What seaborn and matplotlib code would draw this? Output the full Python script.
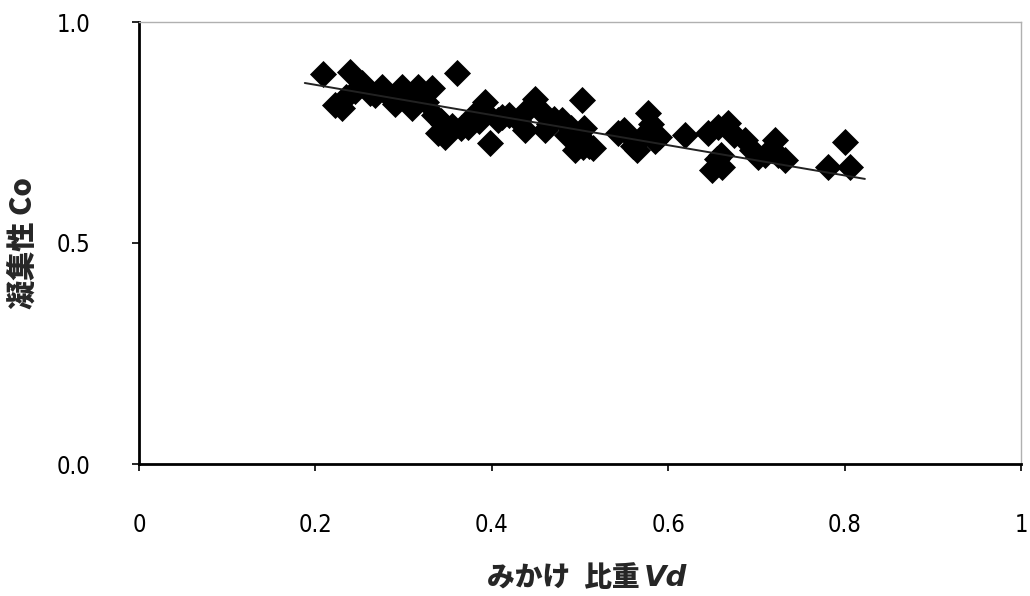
import matplotlib
matplotlib.use("Agg")
import matplotlib.pyplot as plt
import seaborn as sns
import pandas as pd

# Data
vd = [0.209, 0.239, 0.222, 0.235, 0.253, 0.245, 0.230, 0.262, 0.276, 0.285,
      0.298, 0.290, 0.316, 0.305, 0.332, 0.310, 0.325, 0.339, 0.335, 0.345,
      0.360, 0.347, 0.355, 0.373, 0.380, 0.392, 0.398, 0.407, 0.390, 0.420,
      0.438, 0.440, 0.449, 0.455, 0.460, 0.470, 0.480, 0.490, 0.494, 0.502,
      0.500, 0.503, 0.510, 0.505, 0.543, 0.550, 0.565, 0.570, 0.577, 0.580,
      0.585, 0.619, 0.650, 0.656, 0.645, 0.660, 0.668, 0.661, 0.687, 0.675,
      0.702, 0.721, 0.732, 0.800, 0.781, 0.806, 0.710,
      0.268, 0.300, 0.320, 0.342, 0.365, 0.385, 0.412, 0.430, 0.465, 0.485,
      0.515, 0.560, 0.590, 0.655, 0.695, 0.725]
co = [0.882, 0.887, 0.812, 0.830, 0.862, 0.845, 0.805, 0.840, 0.853, 0.830,
      0.853, 0.815, 0.853, 0.830, 0.850, 0.805, 0.820, 0.750, 0.790, 0.770,
      0.885, 0.740, 0.765, 0.762, 0.790, 0.819, 0.726, 0.778, 0.800, 0.790,
      0.756, 0.800, 0.826, 0.800, 0.756, 0.780, 0.778, 0.760, 0.710, 0.824,
      0.740, 0.717, 0.720, 0.760, 0.749, 0.755, 0.710, 0.740, 0.794, 0.770,
      0.730, 0.744, 0.665, 0.762, 0.750, 0.700, 0.771, 0.672, 0.733, 0.745,
      0.695, 0.733, 0.688, 0.729, 0.672, 0.672, 0.700,
      0.835, 0.838, 0.835, 0.775, 0.760, 0.775, 0.785, 0.778, 0.770, 0.745,
      0.715, 0.720, 0.740, 0.690, 0.710, 0.700]
trend_x = [0.188, 0.823]
trend_y = [0.862, 0.645]

x_ticks = [0, 0.2, 0.4, 0.6, 0.8, 1]
x_tick_labels = ["0", "0.2", "0.4", "0.6", "0.8", "1"]
y_ticks = [0.0, 0.5, 1.0]
y_tick_labels = ["0.0", "0.5", "1.0"]

df = pd.DataFrame({"Vd": vd, "Co": co})

sns.set_style("white")
plt.rcParams['font.family'] = ['Noto Sans CJK JP', 'DejaVu Sans']

fig = plt.figure(figsize=(10.30, 5.96), dpi=100)
ax = fig.add_axes([139/1030, 1-464/596, (1021-139)/1030, (464-22)/596])

sns.scatterplot(data=df, x="Vd", y="Co", marker="D", s=190, color="black",
                edgecolor="black", linewidth=0, ax=ax, zorder=2)
ax.plot(trend_x, trend_y, color="#222222", lw=1.4, zorder=3)

ax.set_xlim(0, 1)
ax.set_ylim(0, 1)
ax.set_xticks(x_ticks)
ax.set_yticks(y_ticks)
tick_font = dict(family=['DejaVu Sans'], stretch='condensed', size=17)
ax.set_xticklabels(x_tick_labels, fontdict=tick_font)
ax.set_yticklabels(y_tick_labels, fontdict=tick_font)
ax.tick_params(axis='both', direction='out', length=5, width=1.2, colors='black',
               left=True, bottom=True)
ax.tick_params(axis='x', pad=30)
ax.tick_params(axis='y', pad=30)

for side in ['left', 'bottom']:
    ax.spines[side].set_color('black')
    ax.spines[side].set_linewidth(2)
for side in ['top', 'right']:
    ax.spines[side].set_color('#b0b0b0')
    ax.spines[side].set_linewidth(1)

ax.set_xlabel("")
ax.set_ylabel("凝集性 Co", fontsize=21, fontweight='black')
ax.yaxis.set_label_coords((38-139)/882, 0.5)
fig.text(640/1030, 1-578/596, "みかけ\u2002比重", ha='right', va='center',
         fontsize=20, fontweight='black')
fig.text(644/1030, 1-578/596, "Vd", ha='left', va='center',
         fontsize=21, fontweight='bold', style='italic',
         family=['DejaVu Sans'])

fig.savefig("out.png", dpi=100)
